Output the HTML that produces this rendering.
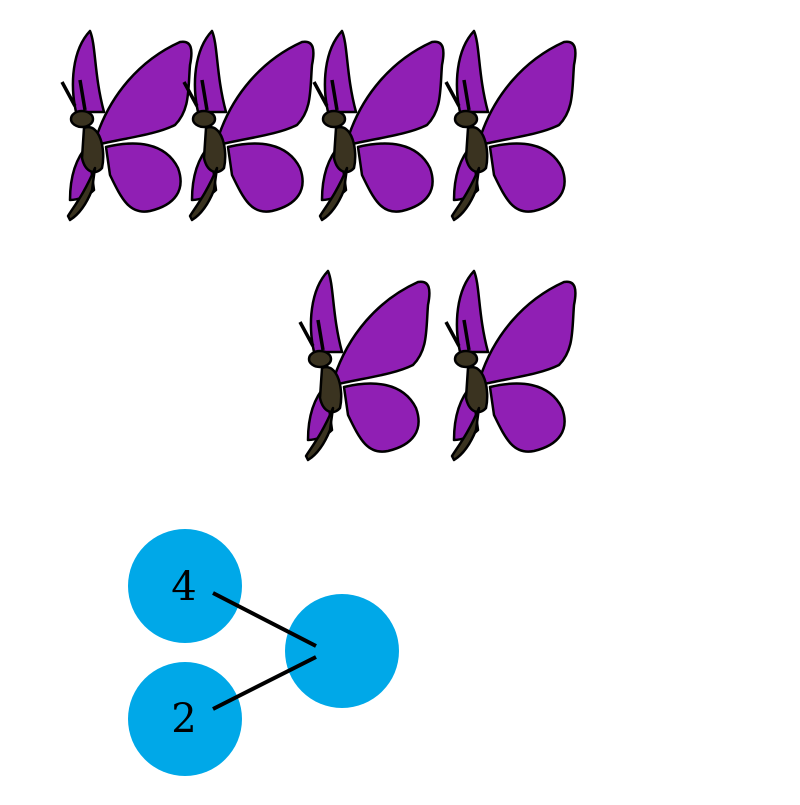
<!DOCTYPE html>
<html><head><style>body{margin:0;background:#fff}</style></head><body>
<svg width="800" height="800" viewBox="0 0 800 800" xmlns="http://www.w3.org/2000/svg">
<defs>
<g id="b" stroke="#000" stroke-width="2.5" stroke-linejoin="round">
<path d="M76,112 C70,85 72,50 90,31 C96,45 94,75 104,112 Z" fill="#901fb4"/>
<path d="M70,200 C70,180 74,160 88,145 L94,190 C88,196 78,200 70,200 Z" fill="#901fb4"/>
<path d="M96,138 C110,95 140,60 180,42 C192,40 193,50 190,65 C188,90 190,110 175,125 C155,135 125,138 96,145 Z" fill="#901fb4"/>
<path d="M106,147 C135,140 165,142 178,168 C186,190 175,205 150,211 C130,215 122,200 110,175 Z" fill="#901fb4"/>
<path d="M62,82 L75,106 M80,80 L85,110" stroke-width="3.5" fill="none"/>
<ellipse cx="82" cy="119" rx="11" ry="8" fill="#3a3320"/>
<path d="M84,128 C100,122 106,150 102,168 C95,176 85,172 82,158 Z" fill="#3a3320"/>
<path d="M68,216 C75,205 85,192 95,168 L92,190 C86,205 78,215 70,220 Z" fill="#3a3320"/>
</g>
</defs>
<use href="#b"/>
<use href="#b" x="122"/>
<use href="#b" x="252"/>
<use href="#b" x="384"/>
<use href="#b" x="238" y="240"/>
<use href="#b" x="384" y="240"/>
<circle cx="185" cy="586" r="57" fill="#00a8e8"/>
<circle cx="185" cy="719" r="57" fill="#00a8e8"/>
<circle cx="342" cy="651" r="57" fill="#00a8e8"/>
<path d="M213,593 L316,646 M213,709 L316,657" stroke="#000" stroke-width="4"/>
<text x="184" y="600" font-family="DejaVu Serif, serif" font-size="40" text-anchor="middle">4</text>
<text x="184" y="732" font-family="DejaVu Serif, serif" font-size="40" text-anchor="middle">2</text>
</svg>
</body></html>
